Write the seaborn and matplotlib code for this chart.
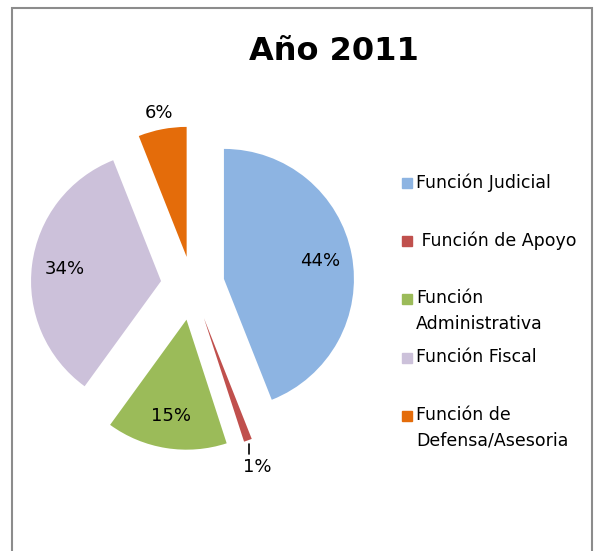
import numpy as np
import matplotlib
matplotlib.use("Agg")
import matplotlib.pyplot as plt
import seaborn as sns
from matplotlib.patches import Rectangle

sns.set_style("white")
plt.rcParams["font.family"] = ["DejaVu Sans"]

# data
categories = ["Función Judicial", " Función de Apoyo", "Función\nAdministrativa",
              "Función Fiscal", "Función de\nDefensa/Asesoria"]
shares = [44, 1, 15, 34, 6]
colors = ["#8DB4E2", "#C0504D", "#9BBB59", "#CCC1DA", "#E46C0A"]
explode = [0.25, 0.27, 0.27, 0.24, 0.22]
title = "Año 2011"

W, H = 596, 551
R = 130.0          # pie radius in px
CX, CY = 192, 285  # pie centre in px (from top-left)

fig = plt.figure(figsize=(W / 100, H / 100), dpi=100)
ax = fig.add_axes([0, 0, 1, 1])

wedges, texts, autotexts = ax.pie(
    shares, colors=colors, explode=explode, startangle=90, counterclock=False,
    autopct="%1.0f%%", pctdistance=0.75, textprops=dict(fontsize=13, color="black"),
    wedgeprops=dict(linewidth=0),
)

# outside labels for the small slices
outside = {1: 1.22, 4: 1.13}
for i, d in outside.items():
    w = wedges[i]
    mid = np.deg2rad((w.theta1 + w.theta2) / 2)
    cx, cy = w.center
    autotexts[i].set_position((cx + d * np.cos(mid), cy + d * np.sin(mid)))
    if i == 1:
        x0 = cx + 1.02 * np.cos(mid)
        y0 = cy + 1.02 * np.sin(mid)
        ax.plot([x0, x0], [y0 - 0.01, y0 - 0.09], color="black", lw=1.2)

ax.set_xlim(-CX / R, (W - CX) / R)
ax.set_ylim(-(H - CY) / R, CY / R)
ax.set_aspect("equal", adjustable="box")
ax.axis("off")

fig.text(334 / W, 1 - 52 / H, title, ha="center", va="center",
         fontsize=23, fontweight="bold", color="black")

# legend drawn by hand (uneven spacing as in original)
leg_y = [183, 241, 299, 358, 416]
for lab, col, y in zip(categories, colors, leg_y):
    fig.patches.append(Rectangle((402 / W, 1 - (y + 5) / H), 10 / W, 10 / H,
                                 transform=fig.transFigure, color=col))
    fig.text(416 / W, 1 - (y - 10) / H, lab, ha="left", va="top",
             fontsize=12.5, linespacing=1.55, color="black")

# chart frame
fig.patches.append(Rectangle((12 / W, -0.05), 580 / W, 1.05 - 8 / H,
                             transform=fig.transFigure, fill=False,
                             edgecolor="#8c8c8c", lw=1.5))

fig.savefig("out.png", dpi=100)
